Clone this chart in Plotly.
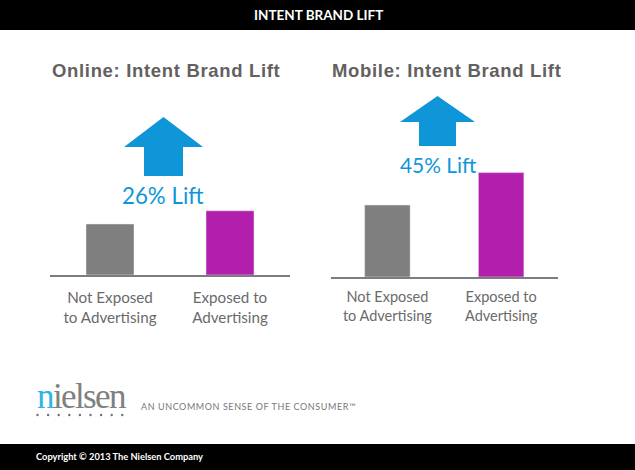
import plotly.graph_objects as go

W, H = 635, 470

# Data (index: not exposed = 100)
categories = ["Not Exposed<br>to Advertising", "Exposed to<br>Advertising"]
online_values = [100, 126]
mobile_values = [100, 145]
bar_colors = ["#7f7f7f", "#b21fac"]
online_title = "Online: Intent Brand Lift"
mobile_title = "Mobile: Intent Brand Lift"
online_lift = "26% Lift"
mobile_lift = "45% Lift"
header_text = "INTENT BRAND LIFT"
copyright_text = "Copyright © 2013 The Nielsen Company"
tagline_text = "AN UNCOMMON SENSE OF THE CONSUMER™"

GRAY = "#6a6a6a"
BLUE = "#0f96d8"
SANS = "Lato, 'Open Sans', sans-serif"

px = lambda x: x / W
py = lambda y: 1 - y / H

fig = go.Figure()
fig.add_bar(x=categories, y=online_values, marker_color=bar_colors, width=0.4,
            xaxis="x", yaxis="y", showlegend=False, hoverinfo="skip")
fig.add_bar(x=categories, y=mobile_values, marker_color=bar_colors, width=0.4,
            xaxis="x2", yaxis="y2", showlegend=False, hoverinfo="skip")


def xaxis(left, right, anchor, size, standoff):
    return dict(domain=[px(left), px(right)], anchor=anchor, type="category", range=[-0.5, 1.5],
                showline=True, linecolor="#7d7d7d", linewidth=2, ticks="", showgrid=False,
                tickfont=dict(family=SANS, size=size, color=GRAY), ticklabelstandoff=standoff)


def yaxis(base, top, anchor):
    return dict(domain=[py(base), py(top)], anchor=anchor, range=[0, 200], visible=False,
                showgrid=False, zeroline=False)


def rect(x0, y0, x1, y1, color, layer="below"):
    return dict(type="rect", xref="paper", yref="paper", x0=px(x0), x1=px(x1), y0=py(y0), y1=py(y1),
                fillcolor=color, line_width=0, layer=layer)


def arrow(tip_x, tip_y, wing_l, wing_r, wing_y, stem_l, stem_r, bottom):
    pts = [(tip_x, tip_y), (wing_r, wing_y), (stem_r, wing_y), (stem_r, bottom),
           (stem_l, bottom), (stem_l, wing_y), (wing_l, wing_y)]
    path = "M" + " L".join(f"{px(a):.5f},{py(b):.5f}" for a, b in pts) + " Z"
    return dict(type="path", xref="paper", yref="paper", path=path, fillcolor=BLUE, line_width=0)


def text(x, y, s, size, color, family=SANS, anchor="center"):
    return dict(x=px(x), y=py(y), xref="paper", yref="paper", text=s, showarrow=False,
                xanchor=anchor, yanchor="middle", font=dict(family=family, size=size, color=color))


def spaced(s, amount):
    return f"<span style='letter-spacing:{amount}px'>{s}</span>"


shapes = [
    rect(0, 0, W, 30, "#000000"),
    rect(0, 444, W, H, "#000000"),
    arrow(163.5, 117, 124, 203, 147, 144, 183, 176),
    arrow(437.5, 96, 400, 475, 122, 419, 456, 146),
]
for i in range(9):
    cx = 37.5 + i * 10.6
    shapes.append(dict(type="circle", xref="paper", yref="paper", x0=px(cx - 1.2), x1=px(cx + 1.2),
                       y0=py(415 - 1.2), y1=py(415 + 1.2), fillcolor="#6f6f6f", line_width=0))

HEAD = "'Liberation Sans', Arial, sans-serif"
annotations = [
    text(318, 15, f"<b>{header_text}</b>", 13.5, "#ffffff"),
    text(166, 70, "<b>" + spaced(online_title, 0.67) + "</b>", 18.5, "#636060", HEAD),
    text(446, 70, "<b>" + spaced(mobile_title, 0.67) + "</b>", 18.5, "#636060", HEAD),
    text(163.5, 195, online_lift, 22.3, BLUE),
    text(438, 164, mobile_lift, 20.9, BLUE),
    text(34.5, 396, spaced("<span style='color:#2fb4ea'>n</span>ielsen", -1.6), 35, "#808080",
         "'Liberation Serif', serif", "left"),
    text(139, 406, spaced(tagline_text, 0.58), 9, "#777777", SANS, "left"),
    text(34, 456, f"<b>{copyright_text}</b>", 9.3, "#ffffff", SANS, "left"),
]

fig.update_layout(
    width=W, height=H, margin=dict(l=0, r=0, t=0, b=0, autoexpand=False),
    paper_bgcolor="#ffffff", plot_bgcolor="rgba(0,0,0,0)",
    xaxis=xaxis(50, 290, "y", 15.2, 8), yaxis=yaxis(275, 173, "x"),
    xaxis2=xaxis(330.5, 558, "y2", 14.5, 6), yaxis2=yaxis(277, 133, "x2"),
    shapes=shapes, annotations=annotations,
)
fig.write_html("out.html", post_script="document.body.style.margin='0';", config={"displayModeBar": False})
